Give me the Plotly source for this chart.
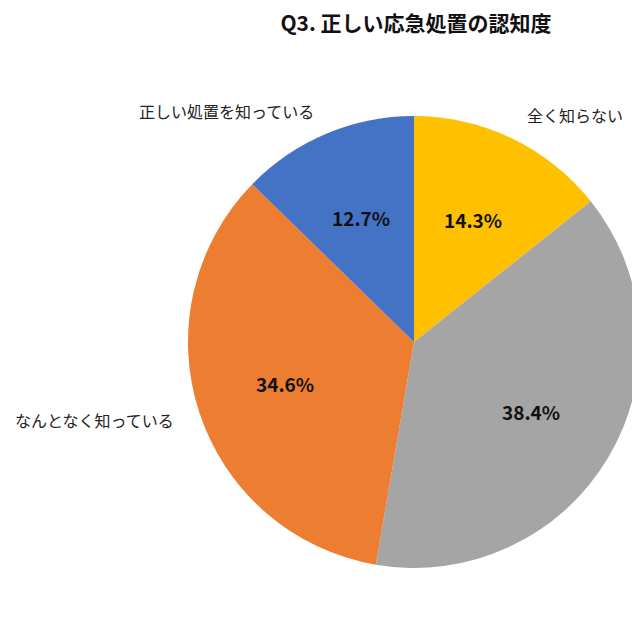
import math

import plotly.graph_objects as go

# ============================================================
# DATA
# ============================================================

TITLE = "Q3. 正しい応急処置の認知度"

LABELS = ["全く知らない", "あまり知らない", "なんとなく知っている", "正しい処置を知っている"]
VALUES = [14.3, 38.4, 34.6, 12.7]
COLORS = ["#FFC000", "#A5A5A5", "#ED7D31", "#4472C4"]

# category label positions in pixels from the top-left, one per category
LABEL_PX = [567, 625, 86, 218]
LABEL_PY = [107, 464, 412, 103]
LABEL_ANCHOR = ["center", "left", "center", "center"]

FONT = "Noto Sans CJK JP"

# the page body adds 8px of margin, so keep the figure inside the window
W, H = 632, 624

# pie geometry in pixels
CX, CY, R = 406, 334, 226
TEXT_R = 0.6


def px(x):
    return x / W


def py(y):
    return 1 - y / H


# ============================================================
# FIGURE
# ============================================================

fig = go.Figure(go.Pie(
    labels=LABELS,
    values=VALUES,
    sort=False,
    direction="clockwise",
    rotation=0,
    marker=dict(colors=COLORS, line=dict(width=0)),
    textinfo="none",
    hoverinfo="label+percent",
    domain=dict(x=[px(CX - R), min(1.0, px(CX + R))], y=[py(CY + R), py(CY - R)]),
    showlegend=False,
))

annotations = []

# percentages, at 60% of the radius on each slice's middle angle
total = sum(VALUES)
cum = 0.0
for v in VALUES:
    mid = (cum + v / 2) / total * 2 * math.pi
    cum += v
    annotations.append(dict(
        text=f"{v:.1f}%",
        x=px(CX + TEXT_R * R * math.sin(mid)),
        y=py(CY - TEXT_R * R * math.cos(mid)),
        xref="paper", yref="paper", xanchor="center", yanchor="middle",
        showarrow=False,
        font=dict(family=FONT, size=19, color="#111111", weight="bold"),
    ))

for text, x, y, anchor in zip(LABELS, LABEL_PX, LABEL_PY, LABEL_ANCHOR):
    annotations.append(dict(
        text=text, x=px(x), y=py(y), xref="paper", yref="paper",
        xanchor=anchor, yanchor="middle", showarrow=False,
        font=dict(family=FONT, size=16, color="#222222"),
    ))

fig.update_layout(
    width=W,
    height=H,
    margin=dict(l=0, r=0, t=0, b=0),
    paper_bgcolor="white",
    title=dict(
        text=TITLE, x=px(408), xanchor="center", y=py(16), yanchor="middle",
        font=dict(family=FONT, size=21, color="#111111", weight="bold"),
    ),
    annotations=annotations,
)

fig.write_html("out.html")
